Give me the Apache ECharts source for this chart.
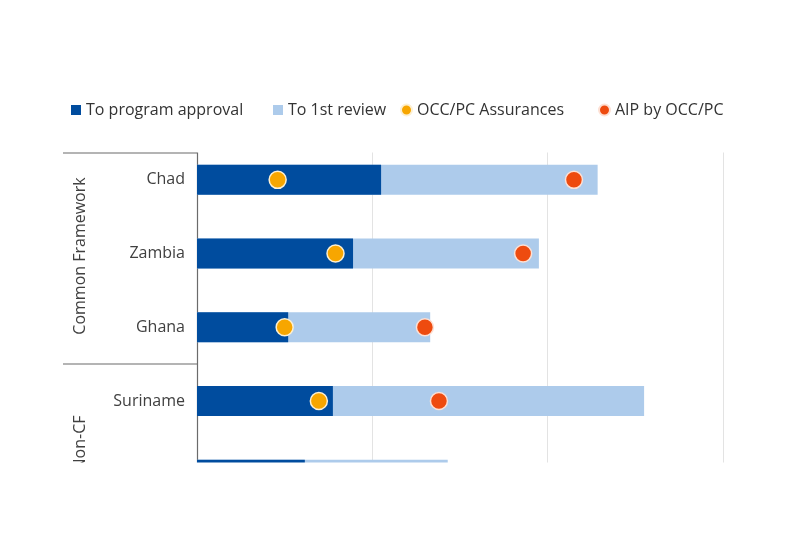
<!DOCTYPE html>
<html>
<head>
<meta charset="utf-8">
<script src="https://cdn.jsdelivr.net/npm/echarts@6/dist/echarts.min.js"></script>
<style>html,body{margin:0;padding:0;background:#fff}#c{width:800px;height:550px}</style>
</head>
<body>
<div id="c"></div>
<script>
// Data (x values in units where one gridline step = 10)
const categories = ['Chad', 'Zambia', 'Ghana', 'Suriname', ''];
const toProgramApproval = [10.5, 8.9, 5.2, 7.75, 6.15];
const toFirstReview = [22.85, 19.5, 13.3, 25.5, 14.3];
const occAssurances = [4.6, 7.9, 5.0, 6.95, null];
const aipByOcc = [21.5, 18.6, 13.0, 13.8, null];
const groupLabels = ['Common Framework', 'Non-CF'];
const seriesNames = ['To program approval', 'To 1st review', 'OCC/PC Assurances', 'AIP by OCC/PC'];

const FONT = 'Open Sans';
const chart = echarts.init(document.getElementById('c'));
const toPts = arr => arr.map((v, i) => v == null ? null : [v, i]).filter(Boolean);

const legendLeft = [66, 268, 395, 593];
const legendIcon = ['rect', 'rect', 'circle', 'circle'];
const legendSize = [10, 10, 11, 11];
const legends = seriesNames.map((n, i) => ({
  left: legendLeft[i], top: 97, itemWidth: legendSize[i], itemHeight: legendSize[i],
  textStyle: { fontSize: 16, color: '#333', fontFamily: FONT },
  data: [{ name: n, icon: legendIcon[i] }]
}));

chart.setOption({
  animation: false,
  textStyle: { fontFamily: FONT },
  legend: legends,
  grid: { left: 197, right: 77, top: 143, height: 368.5 },
  xAxis: {
    type: 'value', min: 0, max: 30, interval: 10,
    axisLabel: { show: false }, axisLine: { show: false }, axisTick: { show: false },
    splitLine: { lineStyle: { color: '#e3e3e3', width: 1 } }
  },
  yAxis: {
    type: 'category', inverse: true, data: categories,
    axisLine: { show: true, lineStyle: { color: '#6b6b6b', width: 1.2 } },
    axisTick: { show: false },
    axisLabel: { fontSize: 16, color: '#404040', margin: 12, fontFamily: FONT }
  },
  series: [
    { name: seriesNames[1], type: 'bar', data: toFirstReview, barWidth: 30, barGap: '-100%',
      itemStyle: { color: '#adcbeb' }, z: 1 },
    { name: seriesNames[0], type: 'bar', data: toProgramApproval, barWidth: 30, barGap: '-100%',
      itemStyle: { color: '#004c9e' }, z: 2 },
    { name: seriesNames[2], type: 'scatter', data: toPts(occAssurances), symbolSize: 17,
      itemStyle: { color: '#f7a600', opacity: 1, borderColor: '#fdf0d2', borderWidth: 1.5 }, z: 5 },
    { name: seriesNames[3], type: 'scatter', data: toPts(aipByOcc), symbolSize: 17,
      itemStyle: { color: '#ee4b0f', opacity: 1, borderColor: '#fde0d4', borderWidth: 1.5 }, z: 5 }
  ],
  graphic: [
    { type: 'rect', shape: { x: 190, y: 135, width: 610, height: 17.5 }, style: { fill: '#fff' }, z: 100 },
    { type: 'rect', shape: { x: 0, y: 462.5, width: 800, height: 90 }, style: { fill: '#fff' }, z: 100 },
    { type: 'line', shape: { x1: 63, y1: 153, x2: 197, y2: 153 }, style: { stroke: '#6b6b6b', lineWidth: 1.2 }, z: 101 },
    { type: 'line', shape: { x1: 63, y1: 364, x2: 197, y2: 364 }, style: { stroke: '#6b6b6b', lineWidth: 1.2 }, z: 101 },
    { type: 'text', x: 80, y: 256, rotation: Math.PI / 2,
      style: { text: groupLabels[0], fontSize: 16, fill: '#404040', fontFamily: FONT, textAlign: 'center', textVerticalAlign: 'middle' }, z: 50 },
    { type: 'text', x: 80, y: 443, rotation: Math.PI / 2,
      style: { text: groupLabels[1], fontSize: 16, fill: '#404040', fontFamily: FONT, textAlign: 'center', textVerticalAlign: 'middle' }, z: 50 }
  ]
});
</script>
</body>
</html>
